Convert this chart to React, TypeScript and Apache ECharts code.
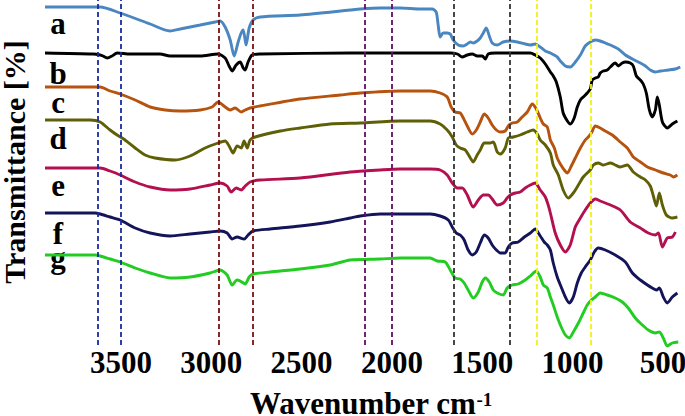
import React, { useEffect, useRef } from "react";
import * as echarts from "echarts";

// Wavenumber tick labels (cm-1)
const waveTicks = [3500, 3000, 2500, 2000, 1500, 1000, 500];
const traceNames = ["a", "b", "c", "d", "e", "f", "g"];
const traceColors = ["#4a86c0", "#000000", "#b5530f", "#5f5f08", "#b3104f", "#14145a", "#22cc22"];

// [wavenumber, offset transmittance]
const traceA: [number, number][] = [
  [3920, 338], [3654, 338], [3615, 338], [3504, 332], [3338, 321], [3228, 314], [3172, 316], [3061, 320],
  [2978, 323], [2951, 324], [2923, 318], [2895, 305], [2873, 289], [2851, 303], [2834, 312], [2823, 315],
  [2807, 300], [2790, 317], [2768, 325], [2729, 328], [2508, 330], [2231, 335], [2176, 336], [2065, 337],
  [1954, 337], [1843, 336], [1777, 336], [1755, 333], [1744, 320], [1733, 308], [1716, 312], [1694, 312],
  [1677, 311], [1661, 305], [1633, 300], [1605, 299], [1583, 301], [1566, 303], [1550, 302], [1528, 304],
  [1511, 307], [1494, 312], [1478, 317], [1461, 309], [1445, 302], [1417, 300], [1384, 303], [1345, 304],
  [1306, 303], [1262, 301], [1234, 300], [1207, 301], [1179, 298], [1151, 294], [1123, 292], [1085, 288],
  [1068, 284], [1040, 279], [1013, 278], [985, 283], [957, 290], [930, 299], [902, 303], [874, 305],
  [847, 304], [819, 302], [791, 300], [747, 296], [708, 290], [669, 286], [625, 282], [597, 279],
  [570, 275], [542, 273], [514, 274], [470, 275], [431, 276], [404, 278],
];
const traceB: [number, number][] = [
  [3920, 292], [3654, 291], [3615, 290], [3599, 289], [3576, 287], [3549, 289], [3521, 292], [3449, 291],
  [3283, 291], [3228, 289], [3061, 289], [2962, 291], [2923, 287], [2901, 279], [2884, 274], [2862, 280],
  [2840, 283], [2823, 277], [2812, 275], [2796, 283], [2774, 290], [2729, 291], [2231, 292], [1733, 292],
  [1677, 292], [1638, 291], [1611, 288], [1583, 290], [1555, 291], [1528, 289], [1500, 289], [1483, 286],
  [1467, 291], [1428, 292], [1234, 292], [1207, 290], [1179, 287], [1151, 281], [1123, 273], [1107, 269],
  [1090, 263], [1068, 248], [1052, 232], [1029, 224], [1013, 221], [991, 227], [974, 238], [957, 245],
  [935, 249], [919, 252], [902, 256], [891, 265], [874, 267], [858, 268], [847, 272], [830, 274],
  [808, 275], [791, 278], [764, 282], [747, 279], [725, 282], [708, 283], [681, 282], [664, 279],
  [647, 269], [625, 265], [609, 261], [592, 252], [575, 235], [559, 228], [542, 235], [531, 248],
  [520, 240], [503, 223], [476, 217], [448, 221], [420, 224],
];
const traceC: [number, number][] = [
  [3920, 258], [3615, 258], [3560, 254], [3504, 251], [3421, 245], [3338, 238], [3255, 235], [3172, 234],
  [3061, 235], [2995, 238], [2962, 243], [2923, 238], [2895, 235], [2868, 237], [2834, 233], [2812, 235],
  [2785, 237], [2729, 239], [2508, 246], [2286, 250], [2176, 252], [1954, 254], [1788, 254], [1733, 252],
  [1694, 248], [1672, 238], [1650, 233], [1622, 232], [1605, 227], [1583, 219], [1555, 211], [1533, 215],
  [1511, 223], [1489, 231], [1467, 227], [1445, 220], [1422, 215], [1400, 213], [1373, 214], [1356, 219],
  [1334, 222], [1306, 223], [1279, 228], [1251, 233], [1223, 241], [1201, 236], [1179, 227], [1162, 221],
  [1140, 218], [1123, 205], [1101, 197], [1085, 187], [1068, 181], [1046, 175], [1029, 172], [1007, 179],
  [985, 187], [957, 197], [930, 205], [913, 208], [896, 212], [874, 219], [847, 217], [819, 214],
  [780, 210], [736, 203], [697, 197], [664, 188], [625, 183], [586, 178], [542, 175], [498, 172],
  [459, 170], [442, 168], [420, 170],
];
const traceD: [number, number][] = [
  [3920, 225], [3670, 225], [3615, 223], [3560, 215], [3521, 210], [3477, 205], [3421, 197], [3366, 190],
  [3311, 187], [3200, 185], [3117, 189], [3034, 197], [2962, 202], [2923, 204], [2901, 199], [2879, 192],
  [2857, 199], [2834, 197], [2818, 204], [2801, 197], [2785, 205], [2757, 208], [2618, 214], [2508, 217],
  [2342, 221], [2176, 222], [1954, 224], [1788, 224], [1733, 221], [1694, 215], [1666, 208], [1644, 200],
  [1622, 197], [1594, 195], [1566, 187], [1550, 183], [1528, 190], [1511, 195], [1489, 202], [1467, 202],
  [1456, 202], [1439, 203], [1417, 193], [1400, 191], [1373, 197], [1356, 207], [1328, 208], [1290, 210],
  [1251, 213], [1218, 215], [1195, 211], [1179, 205], [1151, 200], [1123, 192], [1107, 180], [1079, 170],
  [1052, 155], [1024, 147], [996, 152], [968, 160], [941, 168], [902, 175], [885, 180], [858, 182],
  [830, 180], [791, 182], [764, 180], [736, 178], [697, 180], [664, 173], [625, 168], [597, 165],
  [570, 159], [553, 149], [536, 139], [520, 152], [503, 140], [481, 130], [448, 127], [420, 128],
];
const traceE: [number, number][] = [
  [3920, 177], [3615, 177], [3560, 174], [3504, 170], [3421, 163], [3338, 158], [3228, 155], [3117, 156],
  [3006, 160], [2951, 162], [2912, 159], [2890, 153], [2862, 157], [2834, 155], [2812, 159], [2785, 163],
  [2729, 165], [2508, 167], [2231, 173], [2065, 175], [1954, 176], [1788, 176], [1733, 175], [1694, 170],
  [1666, 162], [1638, 157], [1611, 157], [1583, 150], [1550, 138], [1522, 145], [1494, 150], [1467, 150],
  [1445, 146], [1417, 140], [1384, 142], [1362, 147], [1345, 150], [1317, 152], [1290, 153], [1262, 157],
  [1234, 160], [1207, 162], [1179, 155], [1151, 148], [1135, 140], [1123, 132], [1096, 112], [1068, 100],
  [1040, 93], [1013, 100], [985, 118], [957, 127], [930, 135], [902, 142], [874, 146], [847, 144],
  [791, 140], [736, 135], [681, 123], [625, 117], [581, 112], [542, 110], [525, 112], [503, 98],
  [476, 107], [448, 108], [431, 113],
];
const traceF: [number, number][] = [
  [3920, 132], [3643, 132], [3615, 131], [3560, 128], [3504, 125], [3421, 117], [3338, 112], [3228, 109],
  [3117, 111], [3006, 113], [2951, 114], [2912, 112], [2884, 106], [2857, 108], [2818, 106], [2796, 110],
  [2768, 114], [2674, 116], [2508, 119], [2342, 123], [2231, 127], [2176, 129], [2065, 131], [1788, 131],
  [1733, 129], [1688, 125], [1666, 118], [1644, 112], [1622, 110], [1600, 105], [1578, 95], [1555, 90],
  [1533, 93], [1511, 102], [1489, 110], [1467, 107], [1445, 100], [1422, 95], [1400, 92], [1373, 92],
  [1356, 98], [1334, 102], [1301, 103], [1267, 108], [1234, 112], [1207, 116], [1179, 109], [1157, 103],
  [1140, 100], [1123, 95], [1107, 82], [1085, 68], [1063, 58], [1040, 48], [1018, 42], [996, 48],
  [974, 62], [952, 72], [930, 78], [902, 85], [880, 93], [858, 97], [819, 95], [764, 90],
  [708, 83], [669, 72], [625, 65], [586, 60], [559, 57], [536, 55], [520, 57], [498, 48],
  [476, 42], [448, 48], [420, 52],
];
const traceG: [number, number][] = [
  [3920, 90], [3643, 90], [3615, 89], [3560, 86], [3504, 83], [3421, 77], [3338, 72], [3228, 67],
  [3117, 68], [3006, 72], [2951, 75], [2912, 70], [2884, 60], [2857, 65], [2840, 64], [2812, 61],
  [2790, 68], [2768, 71], [2674, 73], [2508, 76], [2342, 80], [2231, 85], [2065, 86], [1954, 87],
  [1788, 87], [1749, 84], [1705, 83], [1677, 75], [1650, 67], [1622, 66], [1600, 62], [1578, 55],
  [1550, 47], [1522, 53], [1500, 63], [1483, 67], [1461, 63], [1439, 55], [1417, 52], [1384, 50],
  [1362, 57], [1334, 60], [1301, 61], [1262, 65], [1234, 69], [1201, 74], [1179, 68], [1162, 60],
  [1140, 57], [1123, 48], [1107, 40], [1085, 28], [1063, 18], [1040, 10], [1018, 7], [996, 13],
  [968, 22], [941, 32], [919, 40], [896, 45], [874, 48], [847, 52], [808, 50], [764, 47],
  [725, 43], [692, 37], [653, 27], [614, 20], [581, 15], [542, 12], [520, 13], [498, 7],
  [476, -1], [448, 2], [415, 3],
];
const traces = [traceA, traceB, traceC, traceD, traceE, traceF, traceG];

// Dashed band markers (cm-1)
const markerWaves = [3630, 3500, 2960, 2770, 2150, 2000, 1660, 1350, 1200, 900];
const markerColors = ["#1a2aa0", "#1a2aa0", "#7a1010", "#7a1010", "#660a66", "#660a66", "#333333", "#333333", "#f0f020", "#f0f020"];

// vertical centres of letter labels (px)
const letterY = [23, 73, 102, 138, 185, 233, 257];

const FONT = '"Liberation Serif", "Times New Roman", serif';

export default function App() {
  const ref = useRef<HTMLDivElement>(null);
  useEffect(() => {
    if (!ref.current) return;
    const chart = echarts.init(ref.current, null, { renderer: "svg" });
    const series: any[] = traces.map((d, i) => ({
      type: "line",
      name: traceNames[i],
      data: d,
      showSymbol: false,
      symbol: "none",
      smooth: 0.25,
      lineStyle: { color: traceColors[i], width: 2.9 },
      z: 2,
    }));
    series.push({
      type: "line",
      data: [],
      z: 5,
      markLine: {
        silent: true,
        symbol: ["none", "none"],
        label: { show: false },
        animation: false,
        data: markerWaves.map((w, i) => [
          { coord: [w, 0], lineStyle: { color: markerColors[i], type: [5, 3], width: 1.8 } },
          { coord: [w, 345] },
        ]),
      },
    });
    chart.setOption({
      animation: false,
      backgroundColor: "#ffffff",
      grid: { left: 45, right: 4, top: 0, bottom: 66, containLabel: false, outerBoundsMode: "none" },
      xAxis: {
        type: "value",
        min: 400,
        max: 3920,
        inverse: true,
        axisLine: { show: false },
        axisTick: { show: false },
        splitLine: { show: false },
        axisLabel: {
          customValues: waveTicks,
          formatter: (v: number) => String(v),
          hideOverlap: false,
          showMinLabel: true,
          showMaxLabel: true,
          margin: -3,
          fontSize: 31,
          fontWeight: "bold",
          fontFamily: FONT,
          color: "#000",
        },
      },
      yAxis: { type: "value", min: -5, max: 345, show: false },
      series,
      graphic: [
        {
          type: "text",
          x: 14,
          y: 162,
          rotation: Math.PI / 2,
          style: {
            text: "Transmittance [%]",
            fontSize: 30,
            fontWeight: "bold",
            fontFamily: FONT,
            fill: "#000",
            align: "center",
            verticalAlign: "middle",
            lineHeight: 26,
          },
        },
        {
          type: "text",
          x: 250,
          y: 403,
          style: {
            text: "{m|Wavenumber cm}{s|-1}",
            align: "left",
            verticalAlign: "middle",
            rich: {
              m: { fontSize: 31, fontWeight: "bold", fontFamily: FONT, fill: "#000", lineHeight: 26 },
              s: { fontSize: 19, fontWeight: "bold", fontFamily: FONT, fill: "#000", verticalAlign: "top", lineHeight: 26 },
            },
          },
        },
        ...traceNames.map((n, i) => ({
          type: "text",
          x: 58,
          y: letterY[i],
          style: {
            text: n,
            fontSize: 31,
            fontWeight: "bold",
            fontFamily: FONT,
            fill: "#000",
            align: "center",
            verticalAlign: "middle",
            lineHeight: 22,
          },
        })),
      ],
    });
    return () => chart.dispose();
  }, []);
  return <div ref={ref} style={{ position: "fixed", left: 0, top: 0, width: 685, height: 416 }} />;
}
